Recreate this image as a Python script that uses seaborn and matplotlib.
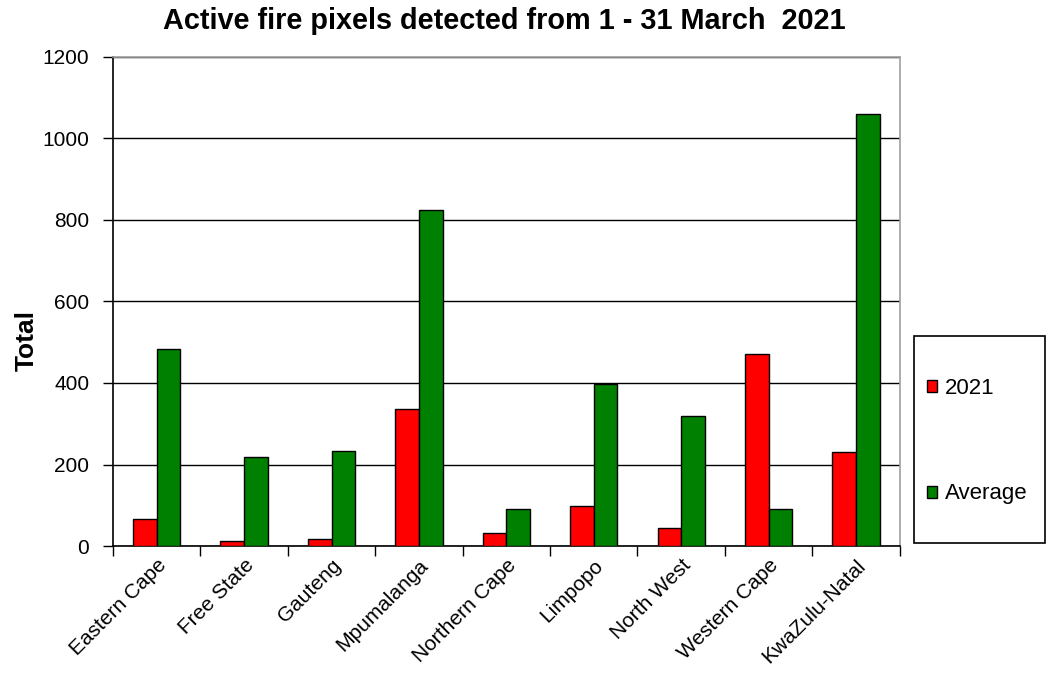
import numpy as np
import pandas as pd
import seaborn as sns
import matplotlib.pyplot as plt
from matplotlib.patches import Rectangle

# ==================================================
# data
# ==================================================
provinces = ["Eastern Cape", "Free State", "Gauteng", "Mpumalanga", "Northern Cape",
             "Limpopo", "North West", "Western Cape", "KwaZulu-Natal"]
values_2021 = [66, 13, 18, 337, 32, 98, 45, 471, 231]
values_avg = [483, 218, 234, 825, 92, 397, 319, 92, 1060]
series_names = ["2021", "Average"]
y_ticks = [0, 200, 400, 600, 800, 1000, 1200]

df = pd.DataFrame({
    "Province": provinces * 2,
    "Series": [series_names[0]] * len(provinces) + [series_names[1]] * len(provinces),
    "Total": values_2021 + values_avg,
})

# ==================================================
# style
# ==================================================
sns.set_theme(style="white", rc={
    "text.color": "black",
    "axes.labelcolor": "black",
    "xtick.color": "black",
    "ytick.color": "black",
})
plt.rcParams["font.family"] = ["Liberation Sans", "DejaVu Sans"]

fig = plt.figure(figsize=(10.49, 6.89), dpi=100)
ax = fig.add_axes([0.1077, 0.2075, 0.750, 0.710])

sns.barplot(
    data=df, x="Province", y="Total", hue="Series",
    palette=["#FF0000", "#008000"],
    width=0.54, gap=0, edgecolor="black", linewidth=1.0,
    saturation=1, ax=ax, zorder=3,
)

ax.set_ylim(0, 1200)
ax.set_xlim(-0.5, len(provinces) - 0.5)
ax.set_yticks(y_ticks)
ax.set_yticklabels([str(t) for t in y_ticks], fontsize=15)
ax.yaxis.grid(True, color="black", linewidth=1.0, zorder=0)
ax.set_axisbelow(True)

# category ticks between groups, labels at centres
ax.set_xticks(np.arange(-0.5, len(provinces)), labels=[""] * (len(provinces) + 1))
ax.set_xticks(np.arange(len(provinces)), labels=provinces, minor=True)
ax.tick_params(axis="x", which="major", direction="out", length=7, width=1, color="black", bottom=True)
ax.tick_params(axis="x", which="minor", length=0, labelsize=15, pad=7)
for lbl in ax.get_xticklabels(minor=True):
    lbl.set_rotation(45)
    lbl.set_ha("right")
    lbl.set_rotation_mode("anchor")
ax.tick_params(axis="y", direction="out", length=7, width=1, color="black", left=True, pad=10)

for side in ["left", "bottom"]:
    ax.spines[side].set_color("black")
    ax.spines[side].set_linewidth(1.2)
for side in ["top", "right"]:
    ax.spines[side].set_color("#a0a0a0")
    ax.spines[side].set_linewidth(1.2)

ax.set_xlabel("")
ax.set_ylabel("Total", fontsize=19, fontweight="bold")
ax.yaxis.set_label_coords(-0.094, 0.421)

fig.suptitle("Active fire pixels detected from 1 - 31 March  2021",
             fontsize=20.8, fontweight="bold", x=0.481, y=0.99)

# legend on the right, with its own frame
handles, labels = ax.get_legend_handles_labels()
ax.legend_.remove()
fig.patches.append(Rectangle((0.8713, 0.2119), 0.1249, 0.3004, transform=fig.transFigure,
                             facecolor="white", edgecolor="black", linewidth=1.2))
fig.legend(
    handles, labels,
    loc="upper left", bbox_to_anchor=(0.8840, 0.4513),
    bbox_transform=fig.transFigure,
    fontsize=16, frameon=False,
    labelspacing=3.8, borderpad=0, handlelength=0.45, handleheight=0.45,
    handletextpad=0.35, borderaxespad=0,
)

fig.savefig("out.png", dpi=100)
